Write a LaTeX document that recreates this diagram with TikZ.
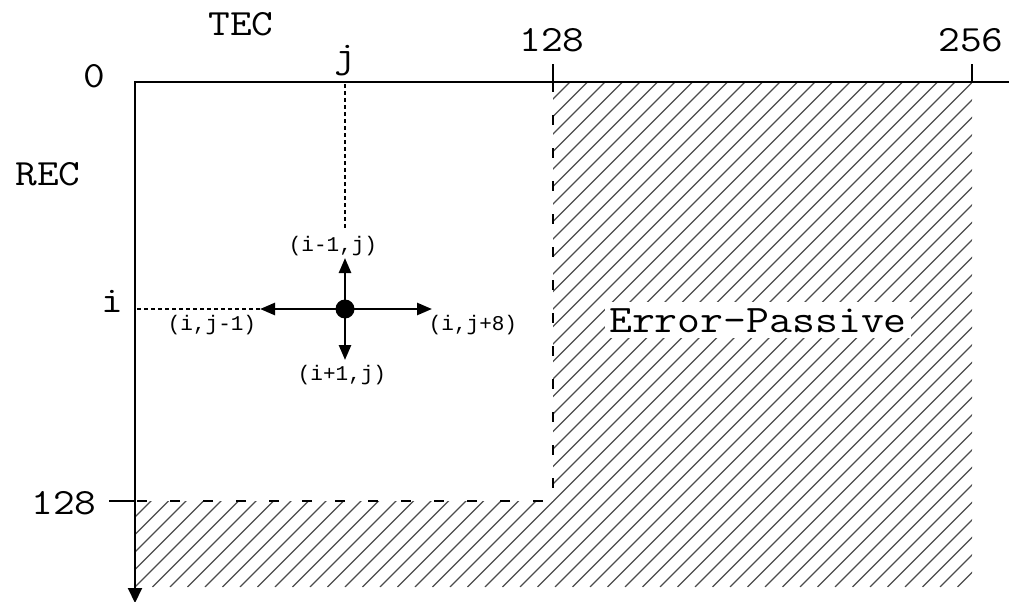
\documentclass[tikz,border=0pt]{standalone}
\usepackage{fontspec}
\setmainfont{Liberation Mono}
\newfontfamily\courlike[FakeStretch=1.14]{Latin Modern Mono}
\usetikzlibrary{arrows.meta}
\begin{document}
\begin{tikzpicture}[x=1pt,y=-1pt,
  biglabel/.style={font=\courlike\fontsize{37}{40}\selectfont, inner sep=0pt, anchor=base},
  smalllabel/.style={font=\fontsize{21}{23}\selectfont, inner sep=0pt, anchor=base},
  axisline/.style={line width=2pt, {Triangle[length=15pt,width=14pt]}-{Triangle[length=15pt,width=14pt]}},
  tickline/.style={line width=2pt},
  hatchline/.style={line width=1.3pt, black!70},
  borderline/.style={line width=2pt, dash pattern=on 10pt off 23pt},
  dottedline/.style={line width=2pt, dash pattern=on 4pt off 3pt},
  arr/.style={line width=2.5pt, -{Triangle[length=15pt,width=12pt]}}]
\useasboundingbox (0,0) rectangle (1009,602);
% hatched Error-Passive region
\begin{scope}
  \clip (553,82) -- (972,82) -- (972,587) -- (135,587) -- (135,501) -- (553,501) -- cycle;
  \foreach \k in {-30,...,48} \draw[hatchline] (135+\k*17.5,587) -- ++(560,-560);
\end{scope}
\draw[borderline] (553,82) -- (553,501) -- (135,501);
\node[font=\courlike\fontsize{39}{42}\selectfont, fill=white, inner xsep=4pt, inner ysep=6pt, anchor=base] (ep) at (758,332) {Error-Passive};
% axes
\coordinate (ybot) at (135,603);
\coordinate (o) at (135,82);
\coordinate (xend) at (1024,82);
\draw[axisline] (ybot) -- (o) -- (xend);
% ticks
\coordinate (t128x) at (553,82);
\coordinate (t256x) at (972,82);
\coordinate (t128y) at (135,501);
\draw[tickline] (t128x) -- ++(0,-18);
\draw[tickline] (t256x) -- ++(0,-18);
\draw[tickline] (t128y) -- ++(-26,0);
% axis labels
\node[biglabel] (tec) at (241,36) {TEC};
\node[biglabel] (rec) at (48,185) {REC};
\node[biglabel] (zero) at (94,87) {0};
\node[biglabel] (x128) at (552,52) {128};
\node[biglabel] (x256) at (971,52) {256};
\node[biglabel] (y128) at (64,514) {128};
\node[biglabel] (jl) at (345,67) {j};
\node[biglabel] (il) at (112,312) {i};
% cell and neighbours
\node[circle, fill=black, inner sep=0pt, minimum size=19pt] (dot) at (345,309) {};
\coordinate (up) at (345,258);
\coordinate (left) at (260,309);
\coordinate (right) at (432,309);
\coordinate (down) at (345,360);
\coordinate (jtop) at (345,84);
\coordinate (jbot) at (345,230);
\coordinate (ileft) at (137,309);
\draw[dottedline] (jtop) -- (jbot);
\draw[dottedline] (ileft) -- (left);
\draw[arr] (dot.center) -- (up);
\draw[arr] (dot.center) -- (left);
\draw[arr] (dot.center) -- (right);
\draw[arr] (dot.center) -- (down);
\node[smalllabel] (lup) at (333,251) {(i-1,j)};
\node[smalllabel] (lleft) at (212,330) {(i,j-1)};
\node[smalllabel] (lright) at (473,330) {(i,j+8)};
\node[smalllabel] (ldown) at (342,380) {(i+1,j)};
\end{tikzpicture}
\end{document}
